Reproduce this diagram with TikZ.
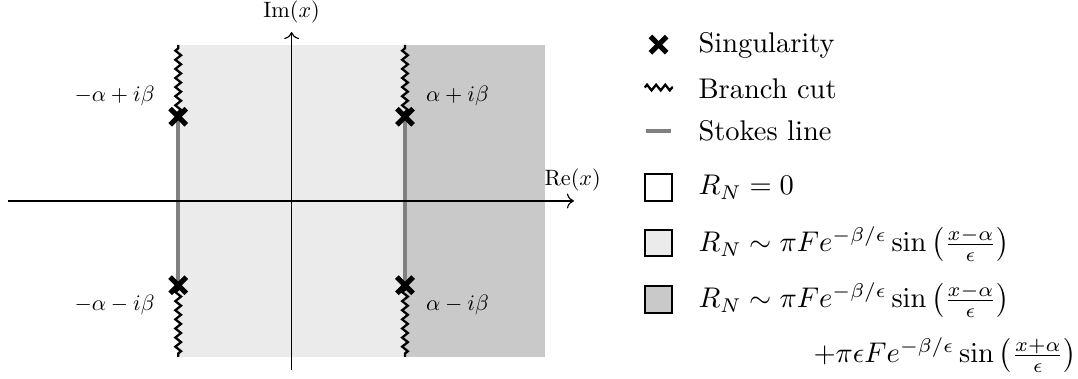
\documentclass[tikz,border=0pt]{standalone}
\usepackage{amsmath,amssymb}
\usepackage{tikz}
\usetikzlibrary{arrows.meta,calc,positioning,decorations.pathmorphing}
\definecolor{lightshade}{gray}{0.92}
\definecolor{darkshade}{gray}{0.79}
\tikzset{
  singx/.style={line width=1.8pt, black},
  cutline/.style={line width=0.8pt, decorate, decoration={zigzag, segment length=3.2pt, amplitude=1pt}},
  stokesline/.style={line width=1.5pt, gray},
  legbox/.style={draw, line width=0.7pt, minimum size=0.33cm, inner sep=0pt},
  legtext/.style={anchor=base west, inner sep=0pt},
  plotlab/.style={scale=0.78, inner sep=0pt},
}
\begin{document}
\begin{tikzpicture}
\useasboundingbox (-3.6,-2.198) rectangle (9.709,2.481);
% --- regioni ---
\fill[lightshade] (-1.40,-1.926) rectangle (3.13,1.926);
\fill[darkshade] (1.40,-1.926) rectangle (3.13,1.926);
% --- singolarita ---
\coordinate (sLU) at (-1.40,1.04);
\coordinate (sRU) at (1.40,1.04);
\coordinate (sLD) at (-1.40,-1.04);
\coordinate (sRD) at (1.40,-1.04);
\coordinate (cLU) at (-1.40,1.926);
\coordinate (cRU) at (1.40,1.926);
\coordinate (cLD) at (-1.40,-1.926);
\coordinate (cRD) at (1.40,-1.926);
% --- linee di Stokes ---
\draw[stokesline] (sLU) -- (sLD);
\draw[stokesline] (sRU) -- (sRD);
% --- assi ---
\coordinate (xL) at (-3.505,0);
\coordinate (xR) at (3.486,0);
\coordinate (yD) at (0,-2.086);
\coordinate (yU) at (0,2.086);
\draw[->] (xL) -- (xR);
\draw[->] (yD) -- (yU);
\node[plotlab] (reLab) at (3.47,0.26) {$\mathrm{Re}(x)$};
\node[plotlab] (imLab) at (0,2.33) {$\mathrm{Im}(x)$};
% --- tagli ---
\foreach \s/\c in {sLU/cLU, sRU/cRU, sLD/cLD, sRD/cRD}
  \draw[cutline] (\s) -- (\c);
\foreach \s in {sLU, sRU, sLD, sRD} {
  \draw[singx] ($(\s)+(-0.1,-0.1)$) -- ($(\s)+(0.1,0.1)$);
  \draw[singx] ($(\s)+(-0.1,0.1)$) -- ($(\s)+(0.1,-0.1)$);
}
\node[plotlab, anchor=east] (lLU) at (-1.686,1.296) {$-\alpha+i\beta$};
\node[plotlab, anchor=west] (lRU) at (1.654,1.296) {$\alpha+i\beta$};
\node[plotlab, anchor=east] (lLD) at (-1.686,-1.284) {$-\alpha-i\beta$};
\node[plotlab, anchor=west] (lRD) at (1.654,-1.284) {$\alpha-i\beta$};
% --- legenda ---
\coordinate (kSing) at (4.53,1.93);
\draw[singx] ($(kSing)+(-0.1,-0.1)$) -- ($(kSing)+(0.1,0.1)$);
\draw[singx] ($(kSing)+(-0.1,0.1)$) -- ($(kSing)+(0.1,-0.1)$);
\node[legtext] (tSing) at (5.017,1.83) {Singularity};
\coordinate (kCutA) at (4.36,1.40);
\coordinate (kCutB) at (4.71,1.40);
\draw[cutline] (kCutA) -- (kCutB);
\node[legtext] (tCut) at (5.017,1.27) {Branch cut};
\coordinate (kStA) at (4.37,0.86);
\coordinate (kStB) at (4.69,0.86);
\draw[stokesline] (kStA) -- (kStB);
\node[legtext] (tSt) at (5.017,0.75) {Stokes line};
\node[legbox, fill=white] (bZero) at (4.53,0.17) {};
\node[legtext] (tZero) at (5.017,0.074) {$R_N=0$};
\node[legbox, fill=lightshade] (bOne) at (4.53,-0.52) {};
\node[legtext] (tOne) at (5.017,-0.63) {$R_N\sim\pi F e^{-\beta/\epsilon}\sin\left(\frac{x-\alpha}{\epsilon}\right)$};
\node[legbox, fill=darkshade] (bTwo) at (4.53,-1.22) {};
\node[legtext] (tTwo) at (5.017,-1.32) {$R_N\sim\pi F e^{-\beta/\epsilon}\sin\left(\frac{x-\alpha}{\epsilon}\right)$};
\node[legtext] (tTwoB) at (6.437,-2.0) {$+\pi\epsilon F e^{-\beta/\epsilon}\sin\left(\frac{x+\alpha}{\epsilon}\right)$};
\end{tikzpicture}
\end{document}
